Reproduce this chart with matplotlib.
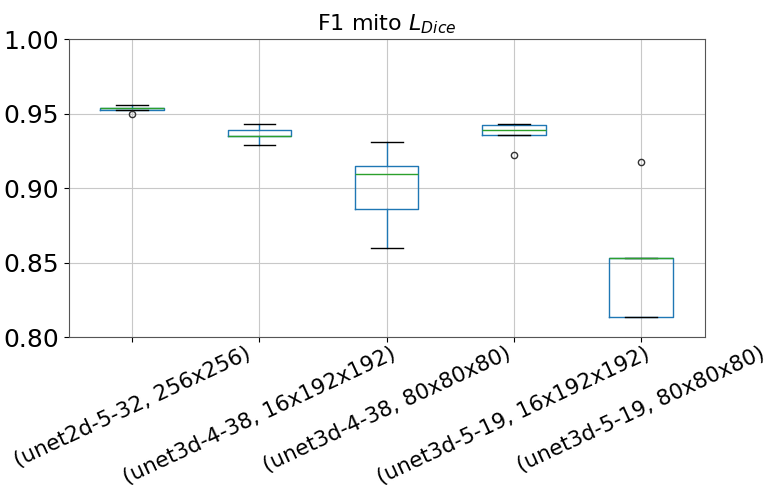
import matplotlib
matplotlib.use("Agg")
import matplotlib.pyplot as plt
import pandas as pd

labels = [
    "(unet2d-5-32, 256x256)",
    "(unet3d-4-38, 16x192x192)",
    "(unet3d-4-38, 80x80x80)",
    "(unet3d-5-19, 16x192x192)",
    "(unet3d-5-19, 80x80x80)",
]
unet2d_5_32_256 = [0.9500, 0.9527, 0.9536, 0.9541, 0.9558]
unet3d_4_38_16x192 = [0.9293, 0.9349, 0.9353, 0.9389, 0.9429]
unet3d_4_38_80 = [0.8600, 0.8863, 0.9095, 0.9148, 0.9309]
unet3d_5_19_16x192 = [0.9224, 0.9356, 0.9389, 0.9423, 0.9429]
unet3d_5_19_80 = [0.8132, 0.8132, 0.8528, 0.8528, 0.9175]

df = pd.DataFrame({
    labels[0]: unet2d_5_32_256,
    labels[1]: unet3d_4_38_16x192,
    labels[2]: unet3d_4_38_80,
    labels[3]: unet3d_5_19_16x192,
    labels[4]: unet3d_5_19_80,
})

plt.rcParams["grid.color"] = "#c8c8c8"
plt.rcParams["axes.edgecolor"] = "#555555"

fig = plt.figure(figsize=(7.71, 4.90), dpi=100)
ax = fig.add_axes([0.089, 0.312, 0.825, 0.608])
df.boxplot(ax=ax, rot=25, fontsize=16, grid=True,
           flierprops=dict(marker="o", markersize=4.5, markeredgecolor="#333333"))
ax.set_ylim(0.80, 1.00)
ax.set_yticks([0.80, 0.85, 0.90, 0.95, 1.00])
ax.set_title("F1 mito $L_{Dice}$", fontsize=16)
ax.tick_params(axis="y", labelsize=18)
ax.tick_params(axis="x", labelsize=15.5, pad=1)
fig.savefig("out.png", dpi=100)
